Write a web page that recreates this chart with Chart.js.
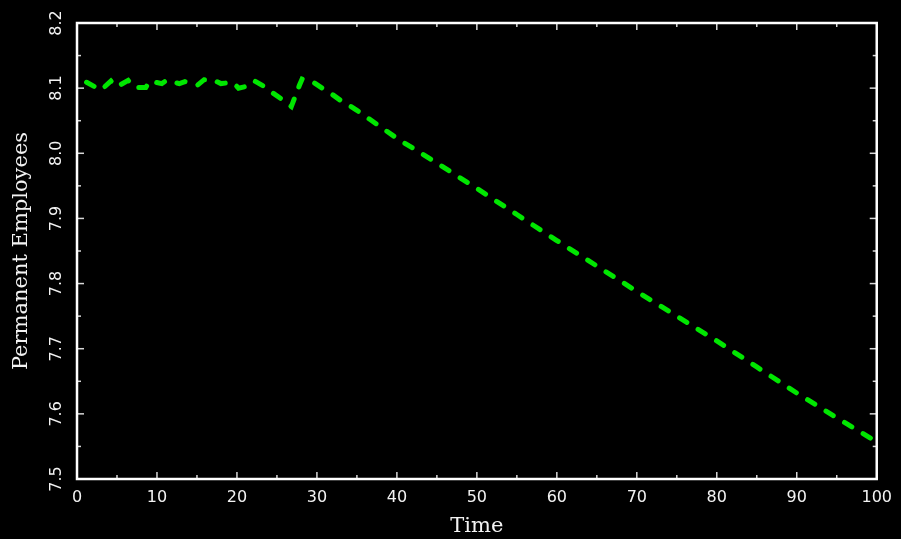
<!DOCTYPE html>
<html><head><meta charset="utf-8">
<script src="https://cdn.jsdelivr.net/npm/chart.js@4"></script>
<style>html,body{margin:0;padding:0;background:#000;} canvas{display:block;background:#000;}</style>
</head><body>
<canvas id="c" width="901" height="539"></canvas>
<script>
const time = [0, 3.0, 4.25, 5.0, 6.4, 7.2, 8.6, 9.1, 10.6, 11.2,
  12.8, 13.5, 15.1, 15.9, 17.0, 18.0, 19.5, 20.2, 21.6, 22.2,
  23.4, 24.5, 25.6, 26.8, 27.8, 28.15, 29.6, 30.9, 31.8, 33.2,
  34.1, 35, 40, 45, 50, 55, 60, 65, 70, 75,
  80, 85, 90, 95, 100];
const employees = [8.117, 8.097, 8.111, 8.102, 8.112, 8.101, 8.101, 8.111, 8.107, 8.112,
  8.107, 8.110, 8.105, 8.113, 8.113, 8.107, 8.109, 8.100, 8.104, 8.111,
  8.1025, 8.0925, 8.083, 8.0717, 8.104, 8.114, 8.1086, 8.098, 8.0914, 8.079,
  8.073, 8.066, 8.023, 7.985, 7.946, 7.906, 7.866, 7.827, 7.788, 7.750,
  7.712, 7.672, 7.632, 7.594, 7.557];
const xTickLabels = ['0','10','20','30','40','50','60','70','80','90','100'];
const yTickLabels = ['7.5','7.6','7.7','7.8','7.9','8.0','8.1','8.2'];
const xTitle = 'Time';
const yTitle = 'Permanent Employees';

const points = time.map((t, i) => ({x: t, y: employees[i]}));

const frame = {
  id: 'frame',
  beforeDatasetsDraw(chart) {
    const {ctx, chartArea: a, scales: {x, y}} = chart;
    ctx.save();
    ctx.strokeStyle = '#d8d8d8';
    ctx.lineWidth = 1.5;
    const seg = (x1, y1, x2, y2) => { ctx.beginPath(); ctx.moveTo(x1, y1); ctx.lineTo(x2, y2); ctx.stroke(); };
    for (let i = 0; i <= 20; i++) {
      const v = x.min + i * 5;
      const px = x.getPixelForValue(v);
      const len = (i % 2 === 0) ? 7 : 4;
      seg(px, a.bottom, px, a.bottom - len);
      seg(px, a.top, px, a.top + len);
    }
    for (let i = 0; i <= 14; i++) {
      const v = y.min + i * 0.05;
      const py = y.getPixelForValue(v);
      const len = (i % 2 === 0) ? 7 : 4;
      seg(a.left, py, a.left + len, py);
      seg(a.right, py, a.right - len, py);
    }
    ctx.strokeStyle = '#ffffff';
    ctx.lineWidth = 2.5;
    ctx.strokeRect(a.left, a.top, a.right - a.left, a.bottom - a.top);
    ctx.restore();
  }
};

new Chart(document.getElementById('c'), {
  type: 'line',
  data: {
    datasets: [{
      data: points,
      borderColor: '#00e600',
      borderWidth: 5,
      borderDash: [8.5, 13.2],
      borderDashOffset: 10.8,
      borderCapStyle: 'round',
      pointRadius: 0,
      tension: 0,
      fill: false
    }]
  },
  options: {
    responsive: false,
    animation: false,
    layout: {padding: {top: 23, right: 22.5, left: 0, bottom: 0}},
    plugins: {legend: {display: false}, tooltip: {enabled: false}},
    scales: {
      x: {
        type: 'linear', min: 0, max: 100,
        afterFit(s) { s.height = 60; },
        grid: {display: false, drawTicks: false},
        border: {display: false},
        ticks: {
          stepSize: 10, autoSkip: false, maxRotation: 0, padding: 9,
          color: '#f2f2f2', font: {family: 'DejaVu Sans', size: 16},
          callback: (v, i) => xTickLabels[i]
        },
        title: {display: true, text: xTitle, color: '#f2f2f2',
          font: {family: 'DejaVu Serif', size: 21}, padding: {top: 0, bottom: 0}}
      },
      y: {
        type: 'linear', min: 7.5, max: 8.2,
        afterFit(s) { s.width = 77; },
        grid: {display: false, drawTicks: false},
        border: {display: false},
        ticks: {
          stepSize: 0.1, autoSkip: false, minRotation: 90, maxRotation: 90,
          crossAlign: 'center', padding: 7,
          color: '#f2f2f2', font: {family: 'DejaVu Sans', size: 16},
          callback: (v, i) => yTickLabels[i]
        },
        title: {display: true, text: yTitle, color: '#f2f2f2',
          font: {family: 'DejaVu Serif', size: 21}, padding: {top: 9, bottom: 0}}
      }
    }
  },
  plugins: [frame]
});
</script>
</body></html>
